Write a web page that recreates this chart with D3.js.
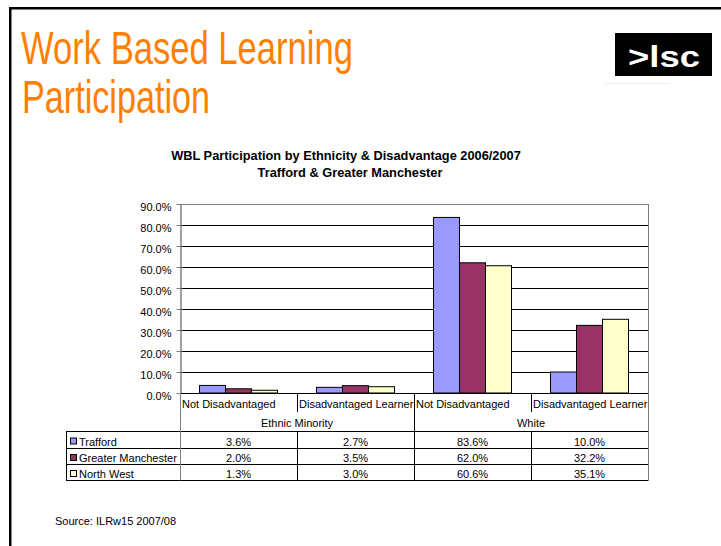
<!DOCTYPE html>
<html><head><meta charset="utf-8">
<script src="https://cdn.jsdelivr.net/npm/d3@7"></script>
<style>html,body{margin:0;padding:0;background:#fff;}svg{display:block;}</style>
</head><body>
<svg id="c" width="721" height="546"></svg>
<script>
const groups = ["Ethnic Minority", "White"];
const subCategories = ["Not Disadvantaged", "Disadvantaged Learner"];
const seriesNames = ["Trafford", "Greater Manchester", "North West"];
const seriesColors = ["#9999FF", "#993366", "#FFFFCC"];
const trafford = [3.6, 2.7, 83.6, 10.0];
const greaterManchester = [2.0, 3.5, 62.0, 32.2];
const northWest = [1.3, 3.0, 60.6, 35.1];
const yTicks = [0, 10, 20, 30, 40, 50, 60, 70, 80, 90];
const seriesValues = [trafford, greaterManchester, northWest];

(function () {
const FONT = "'Liberation Sans', Arial, sans-serif";
const svg = d3.select("#c");

// slide frame
svg.append("rect").attr("x", 9).attr("y", 7).attr("width", 720).attr("height", 2.5).attr("fill", "#000");
svg.append("rect").attr("x", 9).attr("y", 7).attr("width", 2.5).attr("height", 540).attr("fill", "#000");

// big title
svg.append("text").attr("x", 21).attr("y", 64).attr("fill", "#FF8000")
  .attr("font-family", FONT).attr("font-size", 47)
  .attr("textLength", 332).attr("lengthAdjust", "spacingAndGlyphs")
  .text("Work Based Learning");
svg.append("text").attr("x", 22).attr("y", 113).attr("fill", "#FF8000")
  .attr("font-family", FONT).attr("font-size", 47)
  .attr("textLength", 188).attr("lengthAdjust", "spacingAndGlyphs")
  .text("Participation");

// logo
svg.append("rect").attr("x", 615).attr("y", 33).attr("width", 97).attr("height", 43).attr("fill", "#000");
svg.append("text").attr("x", 628).attr("y", 67).attr("fill", "#fff")
  .attr("font-family", FONT).attr("font-size", 30).attr("font-weight", "bold")
  .attr("textLength", 72).attr("lengthAdjust", "spacingAndGlyphs")
  .text(">lsc");
svg.append("line").attr("x1", 605).attr("x2", 670).attr("y1", 83.5).attr("y2", 83.5)
  .attr("stroke", "#eee").attr("stroke-width", 1);

// chart title
svg.append("text").attr("x", 346).attr("y", 160).attr("text-anchor", "middle")
  .attr("font-family", FONT).attr("font-size", 12.8).attr("font-weight", "bold")
  .text("WBL Participation by Ethnicity & Disadvantage 2006/2007");
svg.append("text").attr("x", 350).attr("y", 177).attr("text-anchor", "middle")
  .attr("font-family", FONT).attr("font-size", 12.8).attr("font-weight", "bold")
  .text("Trafford & Greater Manchester");

// scales
const pL = 180, pR = 648, pT = 204, pB = 393;
const keys = [];
groups.forEach(g => subCategories.forEach(s => keys.push(g + "|" + s)));
const x = d3.scaleBand().domain(keys).range([pL, pR]).paddingInner(0).paddingOuter(0);
const xs = d3.scaleBand().domain(seriesNames).range([0, x.bandwidth()]).paddingInner(0).paddingOuter(0.75);
const y = d3.scaleLinear().domain([0, 90]).range([pB, pT]);
const xg = d3.scaleBand().domain(groups).range([pL, pR]);

// gridlines
const grid = svg.append("g");
yTicks.filter(t => t > 0).forEach(t => {
  const yy = Math.round(y(t)) + 0.5;
  grid.append("line").attr("x1", pL).attr("x2", pR).attr("y1", yy).attr("y2", yy)
    .attr("stroke", t === 90 ? "#808080" : "#000").attr("stroke-width", 1);
});
svg.append("line").attr("x1", pR + 0.5).attr("x2", pR + 0.5).attr("y1", pT).attr("y2", pB)
  .attr("stroke", "#808080");

// bars
keys.forEach((k, ci) => {
  seriesNames.forEach((s, si) => {
    const v = seriesValues[si][ci];
    svg.append("rect")
      .attr("x", x(k) + xs(s)).attr("y", y(v))
      .attr("width", xs.bandwidth()).attr("height", y(0) - y(v))
      .attr("fill", seriesColors[si]).attr("stroke", "#000").attr("stroke-width", 1);
  });
});

// y axis
const yAxis = d3.axisLeft(y).tickValues(yTicks).tickSize(4).tickSizeOuter(0)
  .tickFormat(d => d.toFixed(1) + "%");
const ya = svg.append("g").attr("transform", `translate(${pL + 0.5},0)`).call(yAxis);
ya.select(".domain").attr("stroke", "#808080").attr("stroke-width", 1.5);
ya.selectAll(".tick line").attr("stroke", "#808080");
ya.selectAll(".tick text").attr("font-family", FONT).attr("font-size", 11).attr("fill", "#000")
  .attr("x", -9).attr("dy", null).attr("y", 6);

// data table
const rowCat = [393, 412];
const rowTops = [431, 447.5, 464, 480];
const legLeft = 66;
const T = svg.append("g");
function L(x1, y1, x2, y2, c) {
  T.append("line").attr("x1", x1).attr("y1", y1).attr("x2", x2).attr("y2", y2)
    .attr("stroke", c || "#000").attr("stroke-width", 1);
}
L(pL, pB + 0.5, pR + 0.5, pB + 0.5);
rowTops.forEach(t => L(legLeft, Math.round(t) + 0.5, pR + 0.5, Math.round(t) + 0.5));
L(legLeft + 0.5, rowTops[0], legLeft + 0.5, rowTops[3] + 0.5);
L(pL + 0.5, pB, pL + 0.5, rowTops[3] + 0.5, "#808080");
L(pR + 0.5, pB, pR + 0.5, rowTops[3] + 0.5, "#808080");
L(Math.round(xg("White")) + 0.5, pB, Math.round(xg("White")) + 0.5, rowTops[3] + 0.5);
[keys[1], keys[3]].forEach(k => {
  const xx = Math.round(x(k)) + 0.5;
  L(xx, pB, xx, rowCat[1]);
  L(xx, rowTops[0], xx, rowTops[3] + 0.5);
});

keys.forEach(k => {
  T.append("text").attr("x", x(k) + 2).attr("y", 408)
    .attr("font-family", FONT).attr("font-size", 11).text(k.split("|")[1]);
});
groups.forEach(g => {
  T.append("text").attr("x", xg(g) + xg.bandwidth() / 2).attr("y", 426.5).attr("text-anchor", "middle")
    .attr("font-family", FONT).attr("font-size", 11).text(g);
});
seriesNames.forEach((s, si) => {
  const base = rowTops[si + 1] - 2;
  T.append("rect").attr("x", 70.5).attr("y", rowTops[si + 1] - 9.5).attr("width", 6).attr("height", 6)
    .attr("fill", seriesColors[si]).attr("stroke", "#000").attr("stroke-width", 1);
  T.append("text").attr("x", 79).attr("y", base).attr("font-family", FONT).attr("font-size", 11).text(s);
  keys.forEach((k, ci) => {
    T.append("text").attr("x", x(k) + x.bandwidth() / 2).attr("y", base).attr("text-anchor", "middle")
      .attr("font-family", FONT).attr("font-size", 11).text(seriesValues[si][ci].toFixed(1) + "%");
  });
});

svg.append("text").attr("x", 55).attr("y", 525).attr("font-family", FONT).attr("font-size", 11)
  .text("Source: ILRw15 2007/08");
})();
</script>
</body></html>
